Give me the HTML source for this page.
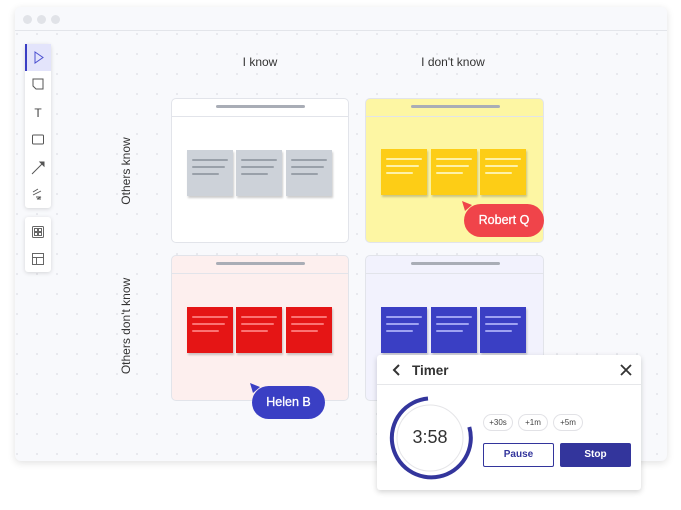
<!DOCTYPE html>
<html><head><meta charset="utf-8"><style>
*{box-sizing:border-box;margin:0;padding:0}
body{width:681px;height:510px;background:#fff;position:relative;overflow:hidden;font-family:"Liberation Sans",sans-serif}
.a{position:absolute}
.win{left:15px;top:7px;width:652px;height:454px;background:#f8f9fc;border-radius:6px;box-shadow:0 2px 8px rgba(0,0,0,.12);overflow:hidden;
background-image:radial-gradient(circle,#d8dae0 0.6px,transparent 1px);background-size:20px 20px;background-position:-8px -3px}
.hdr{left:0;top:0;width:652px;height:24px;background:#f8f9fc;border-bottom:1px solid #e3e5ea}
.dot{top:8px;width:9px;height:9px;border-radius:50%;background:#e1e3e8}
.tb{background:#fff;border-radius:3px;box-shadow:0 1px 4px rgba(0,0,0,.15)}
.q{border:1px solid #e2e4ea;border-radius:5px}
.q .bar{position:absolute;left:44px;top:6px;width:89px;height:3px;border-radius:2px;background:#a9adb6}
.q .ln{position:absolute;left:0;top:17px;width:100%;height:1px;background:#e2e4ea}
.s{width:46px;height:46px;box-shadow:1px 2px 2px rgba(0,0,0,.2)}
.s i{position:absolute;left:5px;height:2px;border-radius:1px}
.lbl{font-size:12px;color:#333}
.bub{color:#fff;font-size:12.5px;border-radius:17px;text-align:center;line-height:33px;-webkit-text-stroke:0.3px #fff}
</style></head><body>
<div class="a win">
 <div class="a hdr"><div class="a dot" style="left:8px"></div><div class="a dot" style="left:22px"></div><div class="a dot" style="left:36px"></div></div>
</div>
<div class="a tb" style="left:25px;top:44px;width:26px;height:164px"></div>
<div class="a" style="left:25px;top:44px;width:26px;height:27px;background:#e3e4fb;border-left:2px solid #3a3fc4"></div>
<svg class="a" style="left:25px;top:44px" width="26" height="230" viewBox="0 0 26 230" fill="none" stroke="#555" stroke-width="1">
 <path d="M10 8 L18 13.5 L10 19 Z" stroke="#4b50d0"/>
 <path d="M8 35 h10 v10 h-7 l-3 -3 z"/>
 <text x="13" y="73" font-size="12" fill="#444" stroke="none" text-anchor="middle" font-family="Liberation Sans">T</text>
 <rect x="7.5" y="91" width="11" height="9" rx="1"/>
 <path d="M7 130 L18 119" /><path d="M15 118 L19 118 L19 122 Z" fill="#555"/>
 <path d="M8 148 l5 -3 M8 151 l8 -4 M11 153 h5 l-4 2 h4" stroke-width=".9"/>
</svg>
<div class="a tb" style="left:25px;top:217px;width:26px;height:55px"></div>
<svg class="a" style="left:25px;top:217px" width="26" height="55" fill="none" stroke="#666" stroke-width="1">
 <rect x="7.5" y="9.5" width="11" height="11" rx="1"/><rect x="9.5" y="11.5" width="3" height="3"/><rect x="13.5" y="11.5" width="3" height="3"/><rect x="9.5" y="15.5" width="3" height="3"/><rect x="13.5" y="15.5" width="3" height="3"/>
 <rect x="7.5" y="36.5" width="11" height="11"/><path d="M7.5 40.5 h11 M11.5 40.5 v7"/>
</svg>
<div class="a lbl" style="left:230px;top:55px;width:60px;text-align:center">I know</div>
<div class="a lbl" style="left:400px;top:55px;width:106px;text-align:center">I don't know</div>
<div class="a lbl" style="left:76px;top:164px;width:100px;text-align:center;transform:rotate(-90deg)">Others know</div>
<div class="a lbl" style="left:66px;top:319px;width:120px;text-align:center;transform:rotate(-90deg)">Others don't know</div>

<div class="a q" style="left:171px;top:98px;width:178px;height:145px;background:#fff"><div class="bar"></div><div class="ln"></div></div>
<div class="a q" style="left:365px;top:98px;width:179px;height:145px;background:#fdf6a3"><div class="bar" style="left:45px"></div><div class="ln"></div></div>
<div class="a q" style="left:171px;top:255px;width:178px;height:146px;background:#fdefee"><div class="bar"></div><div class="ln"></div></div>
<div class="a q" style="left:365px;top:255px;width:179px;height:146px;background:#f2f2fd"><div class="bar" style="left:45px"></div><div class="ln"></div></div>

<div id="st"></div>
<script>
var rows=[[187,150,'#cdd2d9','#99a0a9',[187,236,286]],[381,149,'#fdcd16','#fef2a8',[381,431,480]],[187,307,'#e51515','#fb7373',[187,236,286]],[381,307,'#3a3fc4','#9ea2f2',[381,431,480]]];
var h='';rows.forEach(function(r){r[4].forEach(function(x){h+='<div class="a s" style="left:'+x+'px;top:'+r[1]+'px;background:'+r[2]+'"><i style="top:9px;width:36px;background:'+r[3]+'"></i><i style="top:16px;width:33px;background:'+r[3]+'"></i><i style="top:23px;width:27px;background:'+r[3]+'"></i></div>';});});
document.getElementById('st').innerHTML=h;
</script>

<svg class="a" style="left:460px;top:199px" width="14" height="14"><path d="M2 2 L12 6 L5 12 Z" fill="#f0444a"/></svg>
<div class="a bub" style="left:464px;top:204px;width:80px;height:33px;background:#f0444a">Robert Q</div>
<svg class="a" style="left:248px;top:381px" width="14" height="14"><path d="M2 2 L12 6 L5 12 Z" fill="#3a3fc4"/></svg>
<div class="a bub" style="left:252px;top:386px;width:73px;height:33px;background:#3a3fc4">Helen B</div>

<div class="a" style="left:377px;top:355px;width:264px;height:135px;background:#fff;border-radius:3px;box-shadow:0 2px 6px rgba(0,0,0,.18)">
 <div class="a" style="left:0;top:29px;width:264px;height:1px;background:#e6e7ea"></div>
 <svg class="a" style="left:14px;top:8px" width="12" height="14"><path d="M8 2 L3 7 L8 12" stroke="#333" stroke-width="2" fill="none"/></svg>
 <div class="a" style="left:35px;top:8px;font-size:13.5px;font-weight:bold;color:#333">Timer</div>
 <svg class="a" style="left:242px;top:8px" width="14" height="14"><path d="M2 2 L12 12 M12 2 L2 12" stroke="#333" stroke-width="1.8"/></svg>
 <svg class="a" style="left:10px;top:40px" width="86" height="86">
  <circle cx="43" cy="43" r="33" fill="#fff" stroke="#e5e5e8" stroke-width="1"/>
  <path d="M41 3.5 A39.5 39.5 0 1 0 82.3 32" stroke="#33359c" stroke-width="4" fill="none"/>
 </svg>
 <div class="a" style="left:10px;top:72px;width:86px;text-align:center;font-size:18px;color:#333">3:58</div>
 <div class="a" style="left:106px;top:59px;width:30px;height:17px;border:1px solid #e2e2e6;border-radius:9px;font-size:8px;text-align:center;line-height:15px;color:#444">+30s</div>
 <div class="a" style="left:141px;top:59px;width:30px;height:17px;border:1px solid #e2e2e6;border-radius:9px;font-size:8px;text-align:center;line-height:15px;color:#444">+1m</div>
 <div class="a" style="left:176px;top:59px;width:30px;height:17px;border:1px solid #e2e2e6;border-radius:9px;font-size:8px;text-align:center;line-height:15px;color:#444">+5m</div>
 <div class="a" style="left:106px;top:88px;width:71px;height:24px;border:1px solid #33359c;border-radius:2px;font-size:10px;font-weight:bold;color:#33359c;text-align:center;line-height:22px">Pause</div>
 <div class="a" style="left:183px;top:88px;width:71px;height:24px;background:#33359c;border-radius:2px;font-size:10px;font-weight:bold;color:#fff;text-align:center;line-height:24px">Stop</div>
</div>
</body></html>
